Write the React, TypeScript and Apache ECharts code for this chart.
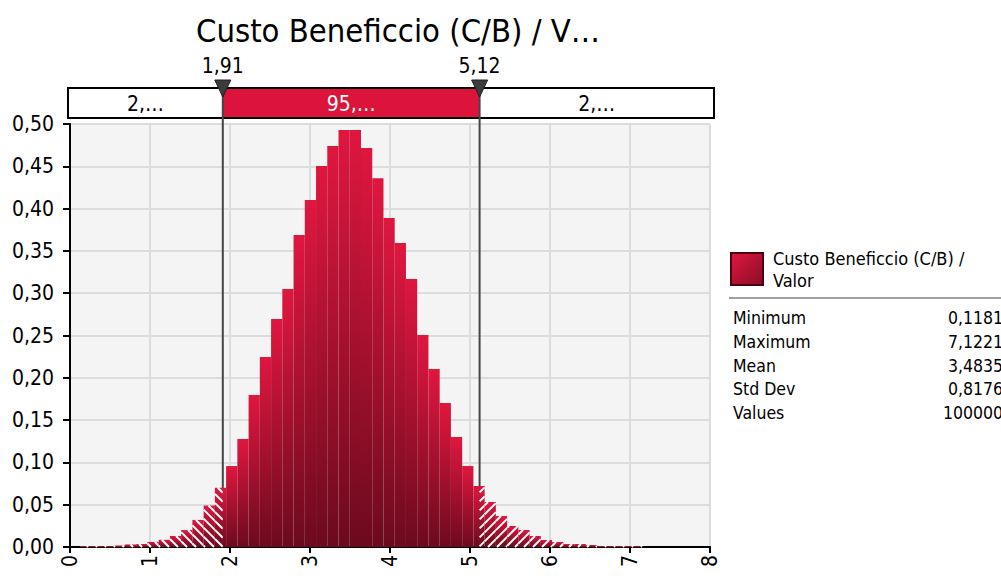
import React, { useEffect, useRef } from "react";
import * as echarts from "echarts";

// ---- data ----
const titleText = "Custo Beneficcio (C/B) / V…";
const seriesName = ["Custo Beneficcio (C/B) /", "Valor"];
const binStart = 0.125;
const binWidth = 0.1405;
const densities = [
  0.0012, 0.0012, 0.0012, 0.0018, 0.003, 0.0035, 0.006, 0.0085, 0.013, 0.02,
  0.032, 0.049, 0.07, 0.0957, 0.1277, 0.1797, 0.2246, 0.2695, 0.305, 0.3688,
  0.4102, 0.4504, 0.474, 0.4929, 0.4929, 0.4716, 0.436, 0.389, 0.3593, 0.3168,
  0.2506, 0.2104, 0.1702, 0.13, 0.0957, 0.0721, 0.0532, 0.0366, 0.0248, 0.0201,
  0.013, 0.0083, 0.0059, 0.0035, 0.0035, 0.0024, 0.0012, 0.0012, 0.0012, 0.001,
];
const cutoffs = [1.91, 5.12];
const cutoffLabels = ["1,91", "5,12"];
const bandLabels = ["2,…", "95,…", "2,…"];
const statNames = ["Minimum", "Maximum", "Mean", "Std Dev", "Values"];
const statValues = ["0,1181", "7,1221", "3,4835", "0,8176", "100000"];

const FONT = "'DejaVu Sans Condensed', 'DejaVu Sans', sans-serif";
const CRIMSON = "#DC143C";

function barGradient() {
  return new echarts.graphic.LinearGradient(0, 0, 0, 1, [
    { offset: 0, color: "#DF173F" },
    { offset: 1, color: "#6C0A1E" },
  ]);
}

export default function App() {
  const ref = useRef<HTMLDivElement>(null);

  useEffect(() => {
    document.body.style.margin = "0";
    const el = ref.current!;
    const chart = echarts.init(el, undefined, { renderer: "svg" });
    const [lo, hi] = cutoffs;
    const data = densities.map((h, i) => [
      binStart + i * binWidth,
      binStart + (i + 1) * binWidth,
      h,
    ]);
    const spacing = 9;

    const option: any = {
      animation: false,
      textStyle: { fontFamily: FONT },
      title: {
        text: titleText,
        left: 393,
        textAlign: "center",
        top: 9,
        textStyle: { fontFamily: FONT, fontSize: 32.5, fontWeight: "normal", color: "#000" },
      },
      grid: {
        left: 70,
        right: 291,
        top: 124,
        bottom: 31,
        show: true,
        backgroundColor: "#F4F4F4",
        borderWidth: 0,
      },
      xAxis: {
        type: "value",
        min: 0,
        max: 8,
        interval: 1,
        axisLine: { show: true, lineStyle: { color: "#000", width: 2 } },
        axisTick: { show: true, length: 6, lineStyle: { color: "#000", width: 2 } },
        axisLabel: { rotate: 90, fontSize: 21, color: "#000", margin: 8, fontFamily: FONT },
        splitLine: { show: true, lineStyle: { color: "#DCDCDC", width: 2 } },
      },
      yAxis: {
        type: "value",
        min: 0,
        max: 0.5,
        interval: 0.05,
        axisLine: { show: true, lineStyle: { color: "#000", width: 2 } },
        axisTick: { show: true, length: 7, lineStyle: { color: "#000", width: 2 } },
        axisLabel: {
          fontSize: 21,
          color: "#000",
          margin: 16,
          fontFamily: FONT,
          formatter: (v: number) => v.toFixed(2).replace(".", ","),
        },
        splitLine: { show: true, lineStyle: { color: "#DCDCDC", width: 2 } },
      },
      series: [
        {
          type: "custom",
          data,
          encode: { x: [0, 1], y: 2 },
          renderItem: (params: any, api: any) => {
            const x0 = api.value(0);
            const x1 = api.value(1);
            const h = api.value(2);
            const segs: any[] = [];
            if (x0 < lo) segs.push([x0, Math.min(x1, lo), "L"]);
            if (x1 > lo && x0 < hi) segs.push([Math.max(x0, lo), Math.min(x1, hi), "S"]);
            if (x1 > hi) segs.push([Math.max(x0, hi), x1, "R"]);
            const children: any[] = [];
            segs.forEach(([sx0, sx1, kind]) => {
              const a = api.coord([sx0, h]);
              const b = api.coord([sx1, 0]);
              const px0 = a[0], py0 = a[1], px1 = b[0], py1 = b[1];
              children.push({
                type: "rect",
                shape: { x: px0, y: py0, width: px1 - px0, height: py1 - py0 },
                style: { fill: barGradient() },
              });
              if (kind === "L") {
                const cStart = Math.floor((px0 - py1) / spacing) * spacing;
                for (let c = cStart; c <= px1 - py0; c += spacing) {
                  const ya = Math.max(py0, px0 - c);
                  const yb = Math.min(py1, px1 - c);
                  if (yb - ya > 0.8) {
                    children.push({
                      type: "line",
                      shape: { x1: ya + c, y1: ya, x2: yb + c, y2: yb },
                      style: { stroke: "#FFFFFF", lineWidth: 2 },
                    });
                  }
                }
              } else if (kind === "R") {
                const cStart = Math.floor((px0 + py0) / spacing) * spacing;
                for (let c = cStart; c <= px1 + py1; c += spacing) {
                  const ya = Math.max(py0, c - px1);
                  const yb = Math.min(py1, c - px0);
                  if (yb - ya > 0.8) {
                    children.push({
                      type: "line",
                      shape: { x1: c - ya, y1: ya, x2: c - yb, y2: yb },
                      style: { stroke: "#FFFFFF", lineWidth: 2 },
                    });
                  }
                }
              }
            });
            return { type: "group", children };
          },
        },
      ],
    };
    chart.setOption(option);

    const xLo = chart.convertToPixel({ xAxisIndex: 0 }, lo) as number;
    const xHi = chart.convertToPixel({ xAxisIndex: 0 }, hi) as number;
    const yBottom = chart.convertToPixel({ yAxisIndex: 0 }, 0) as number;
    const bandL = 68, bandR = 714, bandT = 88, bandH = 30;
    const g: any[] = [];
    // band sections
    g.push({ type: "rect", shape: { x: bandL, y: bandT, width: xLo - bandL, height: bandH }, style: { fill: "#FFFFFF" } });
    g.push({ type: "rect", shape: { x: xLo, y: bandT, width: xHi - xLo, height: bandH }, style: { fill: CRIMSON } });
    g.push({ type: "rect", shape: { x: xHi, y: bandT, width: bandR - xHi, height: bandH }, style: { fill: "#FFFFFF" } });
    g.push({ type: "rect", shape: { x: bandL, y: bandT, width: bandR - bandL, height: bandH }, style: { fill: "none", stroke: "#000", lineWidth: 2 } });
    const centers = [(bandL + xLo) / 2, (xLo + xHi) / 2, (xHi + bandR) / 2];
    bandLabels.forEach((t, i) => {
      g.push({
        type: "text",
        x: centers[i],
        y: bandT + bandH / 2 + 1,
        style: { text: t, fontSize: 21, fontFamily: FONT, fill: i === 1 ? "#FFFFFF" : "#000", align: "center", verticalAlign: "middle" },
      });
    });
    [xLo, xHi].forEach((x, i) => {
      g.push({ type: "line", shape: { x1: x, y1: bandT, x2: x, y2: yBottom }, style: { stroke: "#454545", lineWidth: 2 } });
      g.push({ type: "polygon", shape: { points: [[x - 8, 80], [x + 8, 80], [x, 97]] }, style: { fill: "#3C3C3C", stroke: "#1E1E1E", lineWidth: 1 } });
      g.push({
        type: "text",
        x,
        y: 66,
        style: { text: cutoffLabels[i], fontSize: 21, fontFamily: FONT, fill: "#000", align: "center", verticalAlign: "middle" },
      });
    });
    // legend
    g.push({
      type: "rect",
      shape: { x: 731, y: 253, width: 32, height: 32 },
      style: {
        fill: new echarts.graphic.LinearGradient(0, 0, 1, 1, [
          { offset: 0, color: "#E01840" },
          { offset: 1, color: "#8A0C25" },
        ]),
        stroke: "#4A0010",
        lineWidth: 2,
      },
    });
    seriesName.forEach((t, i) => {
      g.push({ type: "text", x: 773, y: 258 + i * 22, style: { text: t, fontSize: 18, fontFamily: FONT, fill: "#000", verticalAlign: "middle" } });
    });
    g.push({ type: "line", shape: { x1: 729, y1: 298, x2: 1001, y2: 298 }, style: { stroke: "#A0A0A0", lineWidth: 2 } });
    statNames.forEach((t, i) => {
      const y = 318 + i * 23.8;
      g.push({ type: "text", x: 733, y, style: { text: t, fontSize: 17.5, fontFamily: FONT, fill: "#000", verticalAlign: "middle" } });
      g.push({ type: "text", x: 1003, y, style: { text: statValues[i], fontSize: 17.5, fontFamily: FONT, fill: "#000", align: "right", verticalAlign: "middle" } });
    });
    chart.setOption({ graphic: g });

    return () => chart.dispose();
  }, []);

  return <div ref={ref} style={{ width: 1001, height: 578 }} />;
}
